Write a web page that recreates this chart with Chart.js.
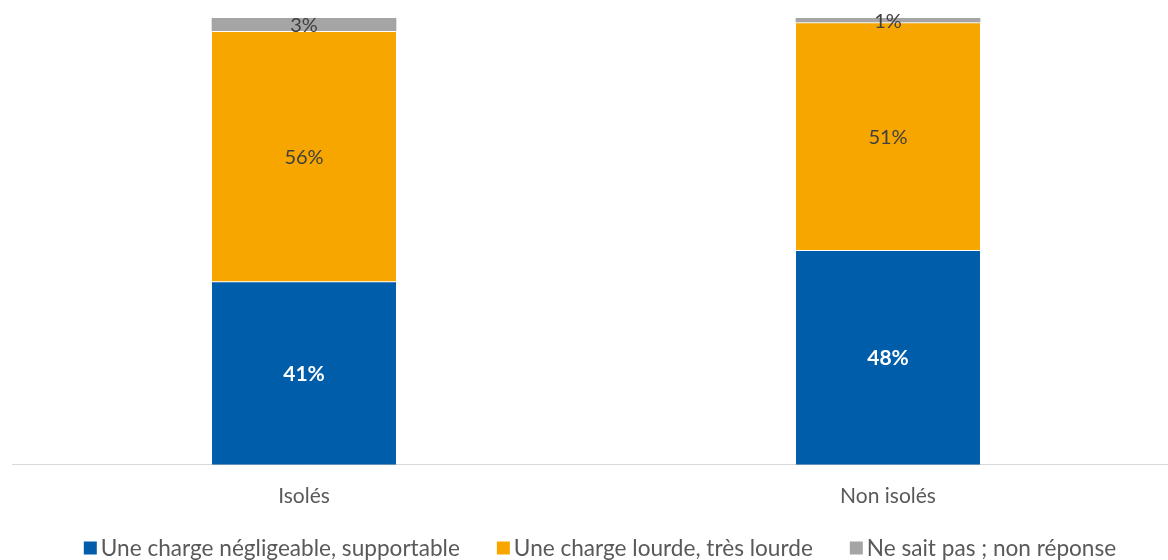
<!DOCTYPE html>
<html>
<head>
<meta charset="utf-8">
<script src="https://cdn.jsdelivr.net/npm/chart.js@4.4.0/dist/chart.umd.min.js"></script>
<style>
  html, body { margin: 0; padding: 0; background: #fff; overflow: hidden; }
  #wrap { width: 1168px; height: 560px; overflow: hidden; }
</style>
</head>
<body>
<div id="wrap"><canvas id="chart" width="1180" height="560"></canvas></div>
<script>
const categories = ['Isolés', 'Non isolés'];
const seriesNames = ['Une charge négligeable, supportable', 'Une charge lourde, très lourde', 'Ne sait pas ; non réponse'];
const supportable = [41, 48];
const lourde = [56, 51];
const nsp = [3, 1];

const FONT = 'Lato, "Open Sans", sans-serif';

// draws the percentage inside each segment
const segmentLabels = {
    id: 'segmentLabels',
    afterDatasetsDraw(chart) {
        const ctx = chart.ctx;
        ctx.save();
        ctx.textAlign = 'center';
        ctx.textBaseline = 'middle';
        chart.data.datasets.forEach((ds, i) => {
            const meta = chart.getDatasetMeta(i);
            meta.data.forEach((bar, j) => {
                const y = (bar.y + bar.base) / 2 + 1;
                if (i === 0) {
                    ctx.fillStyle = '#ffffff';
                    ctx.font = 'bold 21px ' + FONT;
                } else {
                    ctx.fillStyle = '#404040';
                    ctx.font = '20px ' + FONT;
                }
                ctx.fillText(ds.data[j] + '%', bar.x, y);
            });
        });
        ctx.restore();
    }
};

// legend along the bottom, spaced like the original
const bottomLegend = {
    id: 'bottomLegend',
    afterDraw(chart) {
        const ctx = chart.ctx;
        const box = 13, gapText = 4, gapItem = 37, y = 548;
        ctx.save();
        ctx.font = '22.6px ' + FONT;
        ctx.textBaseline = 'middle';
        const widths = chart.data.datasets.map(ds => box + gapText + ctx.measureText(ds.label).width);
        const total = widths.reduce((a, b) => a + b, 0) + gapItem * (widths.length - 1);
        let x = 600 - total / 2;
        chart.data.datasets.forEach((ds, i) => {
            ctx.fillStyle = ds.backgroundColor;
            ctx.fillRect(x, y - box / 2, box, box);
            ctx.fillStyle = '#595959';
            ctx.fillText(ds.label, x + box + gapText, y + 1);
            x += widths[i] + gapItem;
        });
        ctx.restore();
    }
};

new Chart(document.getElementById('chart'), {
    type: 'bar',
    data: {
        labels: categories,
        datasets: [
            { label: seriesNames[0], data: supportable, backgroundColor: '#005DAA', borderColor: '#ffffff', borderWidth: { top: 1 }, borderSkipped: false },
            { label: seriesNames[1], data: lourde, backgroundColor: '#F7A600', borderColor: '#ffffff', borderWidth: { top: 1 }, borderSkipped: false },
            { label: seriesNames[2], data: nsp, backgroundColor: '#A5A5A5', borderColor: '#ffffff', borderWidth: 0 }
        ]
    },
    options: {
        responsive: false,
        animation: false,
        layout: { padding: { top: 18, left: 12, right: 0, bottom: 32 } },
        datasets: { bar: { barThickness: 184 } },
        scales: {
            x: {
                stacked: true,
                grid: { display: false, drawTicks: false },
                border: { color: '#D9D9D9', width: 1 },
                ticks: { color: '#595959', font: { family: FONT, size: 21 }, padding: 19 }
            },
            y: {
                stacked: true,
                display: false,
                min: 0,
                max: 100
            }
        },
        plugins: {
            legend: { display: false },
            tooltip: { enabled: false }
        }
    },
    plugins: [segmentLabels, bottomLegend]
});
</script>
</body>
</html>
